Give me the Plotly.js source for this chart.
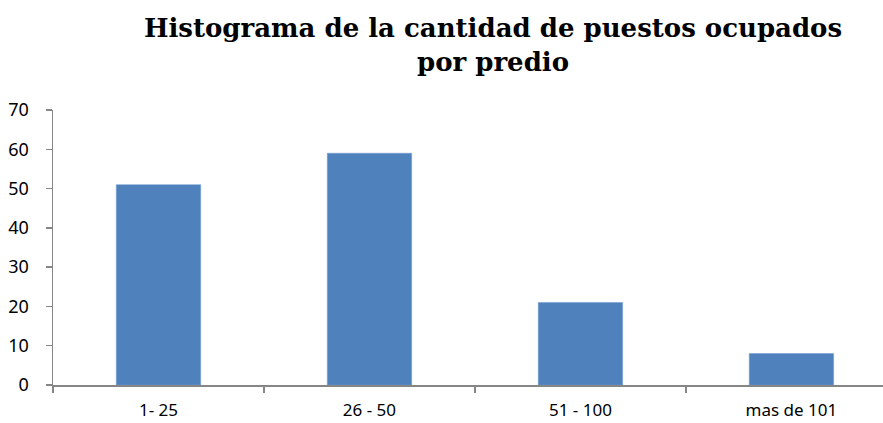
<!DOCTYPE html>
<html><head><meta charset="utf-8">
<script src="https://cdn.plot.ly/plotly-3.0.1.min.js"></script>
<style>html,body{margin:0;padding:0;background:#fff}#c{width:883px;height:423px}</style>
</head><body><div id="c"></div>
<script>
const categories = ['1- 25', '26 - 50', '51 - 100', 'mas de 101'];
const values = [51, 59, 21, 8];
const yTicks = [0, 10, 20, 30, 40, 50, 60, 70];

Plotly.newPlot('c', [{
  type: 'bar', x: categories, y: values, width: 0.4,
  marker: {color: '#4F81BD', line: {color: '#6f9ad0', width: 0.5}},
  hoverinfo: 'x+y'
}], {
  width: 883, height: 423,
  margin: {l: 53, r: 0, t: 110, b: 38},
  paper_bgcolor: '#fff', plot_bgcolor: '#fff',
  showlegend: false,
  title: {
    text: 'Histograma de la cantidad de puestos ocupados<br>por predio',
    font: {family: 'DejaVu Serif, Liberation Serif, serif', size: 26, color: '#000', weight: 'bold'},
    x: 493/883, xanchor: 'center', xref: 'container',
    y: 1 - 37/423, yanchor: 'top', yref: 'container'
  },
  xaxis: {
    type: 'category', range: [-0.5, 3.434],
    showline: true, linecolor: '#868686', linewidth: 1.5,
    ticks: 'outside', tickson: 'boundaries', ticklen: 6, tickcolor: '#868686', tickwidth: 1.5,
    showgrid: false, zeroline: false,
    tickfont: {family: 'Noto Sans, Liberation Sans, sans-serif', size: 17, color: '#000'},
    ticklabelstandoff: 9
  },
  yaxis: {
    range: [0, 70], tickvals: yTicks,
    showline: true, linecolor: '#868686', linewidth: 1.5,
    ticks: 'outside', ticklen: 6, tickcolor: '#868686', tickwidth: 1.5,
    showgrid: false, zeroline: false,
    tickfont: {family: 'Noto Sans, Liberation Sans, sans-serif', size: 18, color: '#000'},
    ticklabelstandoff: 13
  }
}, {displayModeBar: false, staticPlot: true});
</script></body></html>
